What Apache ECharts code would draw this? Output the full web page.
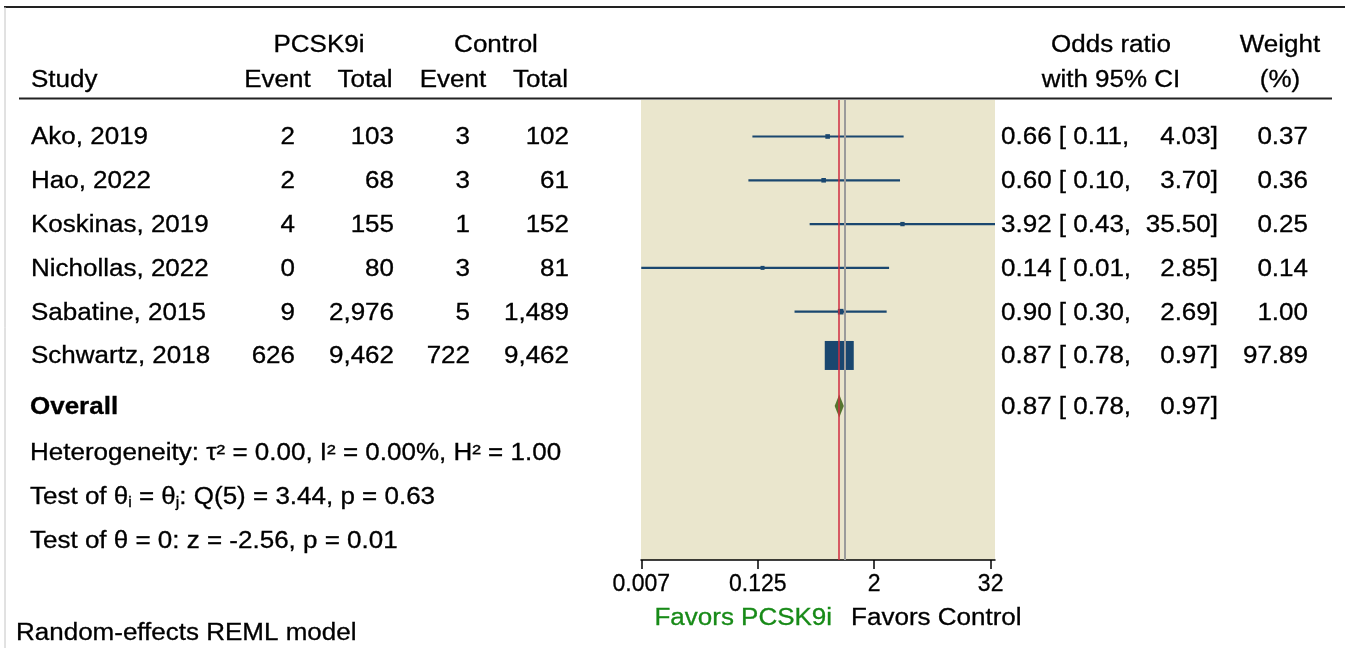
<!DOCTYPE html>
<html>
<head>
<meta charset="utf-8">
<script src="https://cdn.jsdelivr.net/npm/echarts@6/dist/echarts.min.js"></script>
<style>
html,body{margin:0;padding:0;background:#fff;}
#chart{width:1345px;height:648px;}
</style>
</head>
<body>
<div id="chart"></div>
<script>
// ---------------- DATA ----------------
const studies = ['Ako, 2019', 'Hao, 2022', 'Koskinas, 2019', 'Nichollas, 2022', 'Sabatine, 2015', 'Schwartz, 2018'];
const pcsk9Event = [2, 2, 4, 0, 9, 626];
const pcsk9Total = [103, 68, 155, 80, 2976, 9462];
const controlEvent = [3, 3, 1, 3, 5, 722];
const controlTotal = [102, 61, 152, 81, 1489, 9462];
const oddsRatio = [0.66, 0.60, 3.92, 0.14, 0.90, 0.87];
const ciLower = [0.11, 0.10, 0.43, 0.0078, 0.30, 0.78];
const ciUpper = [4.03, 3.70, 35.50, 2.85, 2.69, 0.97];
const weights = [0.37, 0.36, 0.25, 0.14, 1.00, 97.89];
const overallOR = 0.87;
const overallLower = 0.78;
const overallUpper = 0.97;
const tau2 = 0.00, I2 = 0.00, H2 = 1.00;
const Qdf = 5, Qstat = 3.44, Qp = 0.63;
const zStat = -2.56, zP = 0.01;
const tickValues = [0.0078125, 0.125, 2, 32];
const tickLabels = ['0.007', '0.125', '2', '32'];

// ---------------- LAYOUT ----------------
const FONT = '"Liberation Sans", Arial, Helvetica, sans-serif';
const FS = 23;
const SX = 1.13;
const TEXT_DY = 1.5;
const NAVY = '#1a476f';
const GREEN_D = '#55752f';
const RED = '#d12b3f';
const studyRows = [1, 2, 3, 4, 5, 6];
const overallRow = 7.153;
const statsRows = [8.203, 9.21, 10.21];
const headerRows = [-1.112, -0.313];
const favorsRow = 11.97;
const footerRow = 12.31;
const COL = {study: 31, ev1: 295, tot1: 394, ev2: 470, tot2: 569, orL: 1001, orR: 1218, wt: 1308};
const HCOL = {pcsk: 319, control: 496, ev1: 277.5, tot1: 365, ev2: 453, tot2: 540.5, orH: 1111, wtH: 1280};

function T(x, y, text, align, extra) {
  const style = Object.assign({
    text: text, x: 0, y: 0, align: align, verticalAlign: 'middle',
    fontSize: FS, fontFamily: FONT, fill: '#000', stroke: '#000', lineWidth: 0.3
  }, extra || {});
  if (extra && extra.fill && !extra.stroke) style.stroke = extra.fill;
  return {type: 'text', x: x, y: y, scaleX: SX, style: style, silent: true};
}
const fmtInt = v => v.toLocaleString('en-US');
const maxW = Math.max.apply(null, weights);

function tableItem(params, api) {
  const i = params.dataIndex;
  const y = api.coord([1, studyRows[i]])[1] + TEXT_DY;
  return {type: 'group', children: [
    T(COL.study, y, studies[i], 'left'),
    T(COL.ev1, y, fmtInt(pcsk9Event[i]), 'right'),
    T(COL.tot1, y, fmtInt(pcsk9Total[i]), 'right'),
    T(COL.ev2, y, fmtInt(controlEvent[i]), 'right'),
    T(COL.tot2, y, fmtInt(controlTotal[i]), 'right'),
    T(COL.orL, y, oddsRatio[i].toFixed(2) + ' [ ' + ciLower[i].toFixed(2) + ',', 'left'),
    T(COL.orR, y, ciUpper[i].toFixed(2) + ']', 'right'),
    T(COL.wt, y, weights[i].toFixed(2), 'right')
  ]};
}

function annotItem(params, api) {
  const yr = r => api.coord([1, r])[1] + TEXT_DY;
  const h1 = yr(headerRows[0]), h2 = yr(headerRows[1]);
  const yo = yr(overallRow);
  const oneX = api.coord([1, favorsRow])[0];
  const sub = {fontSize: 14, fontFamily: FONT, fill: '#000', verticalAlign: 'bottom', lineHeight: 14};
  return {type: 'group', children: [
    T(HCOL.pcsk, h1, 'PCSK9i', 'center'),
    T(HCOL.control, h1, 'Control', 'center'),
    T(HCOL.orH, h1, 'Odds ratio', 'center'),
    T(HCOL.wtH, h1, 'Weight', 'center'),
    T(COL.study, h2, 'Study', 'left'),
    T(HCOL.ev1, h2, 'Event', 'center'),
    T(HCOL.tot1, h2, 'Total', 'center'),
    T(HCOL.ev2, h2, 'Event', 'center'),
    T(HCOL.tot2, h2, 'Total', 'center'),
    T(HCOL.orH, h2, 'with 95% CI', 'center'),
    T(HCOL.wtH, h2, '(%)', 'center'),
    T(COL.study - 1, yo, 'Overall', 'left', {fontWeight: 'bold'}),
    T(COL.orL, yo, overallOR.toFixed(2) + ' [ ' + overallLower.toFixed(2) + ',', 'left'),
    T(COL.orR, yo, overallUpper.toFixed(2) + ']', 'right'),
    T(30, yr(statsRows[0]), 'Heterogeneity: \u03c4\u00b2 = ' + tau2.toFixed(2) + ', I\u00b2 = ' + I2.toFixed(2) + '%, H\u00b2 = ' + H2.toFixed(2), 'left'),
    T(30, yr(statsRows[1]), 'Test of \u03b8{sub|i} = \u03b8{sub|j}: Q(' + Qdf + ') = ' + Qstat.toFixed(2) + ', p = ' + Qp.toFixed(2), 'left', {lineHeight: 26, rich: {sub: sub}}),
    T(30, yr(statsRows[2]), 'Test of \u03b8 = 0: z = ' + zStat.toFixed(2) + ', p = ' + zP.toFixed(2), 'left'),
    T(oneX - 13, yr(favorsRow), 'Favors PCSK9i', 'right', {fill: '#178a17'}),
    T(oneX + 6, yr(favorsRow), 'Favors Control', 'left'),
    T(16, yr(footerRow), 'Random-effects REML model', 'left')
  ]};
}

function forestItem(params, api) {
  const row = api.value(3);
  const lo = api.coord([api.value(0), row]);
  const hi = api.coord([api.value(1), row]);
  const c = api.coord([api.value(2), row]);
  const s = 26 * Math.sqrt(api.value(4) / maxW) + 3;
  return {type: 'group', children: [
    {type: 'line', shape: {x1: lo[0], y1: lo[1], x2: hi[0], y2: hi[1]}, style: {stroke: NAVY, lineWidth: 2.2}},
    {type: 'rect', shape: {x: c[0] - s / 2, y: c[1] - s / 2, width: s, height: s}, style: {fill: NAVY}}
  ]};
}

function diamondItem(params, api) {
  const row = api.value(3);
  const lo = api.coord([api.value(0), row]);
  const hi = api.coord([api.value(1), row]);
  const c = api.coord([api.value(2), row]);
  const h = 11.5;
  return {type: 'polygon', shape: {points: [[lo[0], c[1]], [c[0], c[1] - h], [hi[0], c[1]], [c[0], c[1] + h]]},
    style: {fill: GREEN_D}};
}

const chart = echarts.init(document.getElementById('chart'), null, {renderer: 'canvas'});
chart.setOption({
  animation: false,
  backgroundColor: '#fff',
  grid: {left: 641, right: 350, top: 100, bottom: 88, show: true, backgroundColor: '#eae6cd', borderWidth: 0},
  xAxis: {
    type: 'log', logBase: 2, min: 0.00775, max: 35.5,
    axisLine: {show: true, lineStyle: {color: '#000', width: 1.5}},
    axisTick: {show: true, inside: false, length: 9, lineStyle: {color: '#000', width: 1.5}, customValues: tickValues},
    axisLabel: {show: true, customValues: tickValues, fontSize: FS, fontFamily: FONT, color: '#000', margin: 13,
      textBorderColor: '#000', textBorderWidth: 0.3,
      formatter: function (v) {
        for (let k = 0; k < tickValues.length; k++) { if (Math.abs(Math.log2(v) - Math.log2(tickValues[k])) < 1e-6) return tickLabels[k]; }
        return '';
      }},
    splitLine: {show: false}, minorTick: {show: false}
  },
  yAxis: {type: 'value', inverse: true, min: 0.167, max: 10.67, show: false},
  graphic: [
    {type: 'line', shape: {x1: 4, y1: 7, x2: 1345, y2: 7}, style: {stroke: '#222', lineWidth: 2}, silent: true},
    {type: 'line', shape: {x1: 5, y1: 7, x2: 5, y2: 648}, style: {stroke: '#c4c4c4', lineWidth: 1}, silent: true},
    {type: 'line', shape: {x1: 19, y1: 98.5, x2: 1332, y2: 98.5}, style: {stroke: '#222', lineWidth: 2}, silent: true}
  ],
  series: [
    {
      type: 'line', data: [], z: 1, silent: true,
      markLine: {silent: true, symbol: 'none', label: {show: false}, animation: false,
        data: [
          {xAxis: 1, lineStyle: {color: '#9b9b9b', width: 2, type: 'solid'}},
          {xAxis: overallOR, lineStyle: {color: RED, width: 1.5, type: 'solid'}}
        ]}
    },
    {type: 'custom', name: 'studies', renderItem: forestItem, z: 3, silent: true,
      encode: {x: [0, 1, 2], y: 3},
      data: studies.map((s, i) => [ciLower[i], ciUpper[i], oddsRatio[i], studyRows[i], weights[i]])},
    {type: 'custom', name: 'overall', renderItem: diamondItem, z: 3, silent: true,
      encode: {x: [0, 1, 2], y: 3},
      data: [[overallLower, overallUpper, overallOR, overallRow]]},
    {type: 'custom', name: 'table', renderItem: tableItem, z: 4, silent: true, clip: false,
      encode: {x: 0, y: 1},
      data: studies.map((s, i) => [1, studyRows[i]])},
    {type: 'custom', name: 'annotations', renderItem: annotItem, z: 4, silent: true, clip: false,
      encode: {x: 0, y: 1},
      data: [[1, 1]]}
  ]
});
</script>
</body>
</html>
